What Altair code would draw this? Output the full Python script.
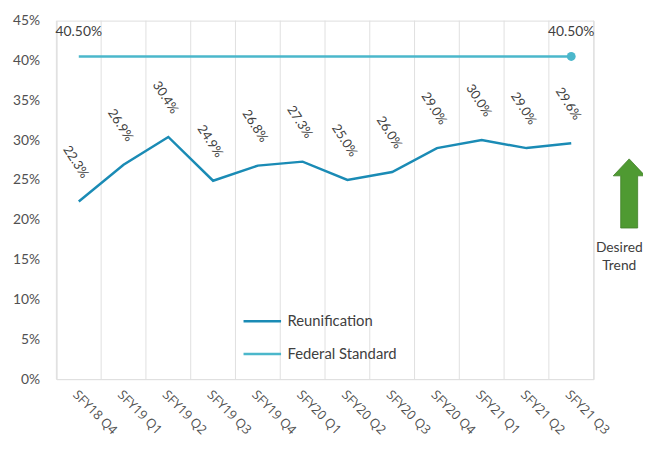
import json
import altair as alt
import pandas as pd

quarters = ["SFY18 Q4", "SFY19 Q1", "SFY19 Q2", "SFY19 Q3", "SFY19 Q4", "SFY20 Q1",
            "SFY20 Q2", "SFY20 Q3", "SFY20 Q4", "SFY21 Q1", "SFY21 Q2", "SFY21 Q3"]
reunification = [22.3, 26.9, 30.4, 24.9, 26.8, 27.3, 25.0, 26.0, 29.0, 30.0, 29.0, 29.6]
federal_standard = [40.5] * 12
series_names = ["Reunification", "Federal Standard"]
series_colors = ["#1A8BB5", "#4BB7CB"]
y_ticks = [0, 0.05, 0.10, 0.15, 0.20, 0.25, 0.30, 0.35, 0.40, 0.45]
note_lines = ["Desired", "Trend"]

rows = []
for i, q in enumerate(quarters):
    rows.append({"idx": i, "quarter": q, "series": "Reunification", "value": reunification[i] / 100})
    rows.append({"idx": i, "quarter": q, "series": "Federal Standard", "value": federal_standard[i] / 100})
df = pd.DataFrame(rows)
n = len(quarters)
edges = pd.DataFrame({"edge": [i - 0.5 for i in range(n + 1)]})

FONT = "Lato"
TXT = "#404040"
GRID = "#E0E0E0"
label_expr = json.dumps(quarters) + "[datum.value]"
x_scale = alt.Scale(domain=[-0.5, n - 0.5], nice=False, zero=False)

x_enc = alt.X("idx:Q", scale=x_scale,
              axis=alt.Axis(values=list(range(n)), labelExpr=label_expr, title=None,
                            grid=False, ticks=False, domainColor=GRID,
                            labelAngle=45, labelAlign="left", labelBaseline="top",
                            labelPadding=9, labelFontSize=13, labelColor="#505050",
                            labelFont="Open Sans", labelOverlap=False))
y_scale = alt.Scale(domain=[0, 0.45], nice=False)
y_axis = alt.Axis(values=y_ticks, format=".0%", title=None, grid=False, ticks=False,
                  domainColor=GRID, labelPadding=17, labelFontSize=14,
                  labelColor="#505050", labelFont=FONT)

grid = alt.Chart(edges).mark_rule(color=GRID, strokeWidth=1).encode(
    x=alt.X("edge:Q", scale=x_scale))

color = alt.Color("series:N",
                  scale=alt.Scale(domain=series_names, range=series_colors),
                  legend=alt.Legend(title=None, orient="none", legendX=188, legendY=284,
                                    symbolType="stroke", symbolSize=1444,
                                    symbolStrokeWidth=2.5, labelFontSize=15,
                                    labelFont=FONT, labelColor=TXT, rowPadding=4,
                                    labelOffset=5))

lines = alt.Chart(df).mark_line(strokeWidth=2.5).encode(
    x=x_enc, y=alt.Y("value:Q", scale=y_scale, axis=y_axis),
    color=color, detail="series:N")

end_dot = alt.Chart(df).transform_filter(
    f"datum.series == 'Federal Standard' && datum.idx == {n - 1}").mark_circle(
    size=80, opacity=1, color=series_colors[1]).encode(x="idx:Q", y="value:Q")

reu_labels = alt.Chart(df).transform_filter("datum.series == 'Reunification'").mark_text(
    angle=57, yOffset=-40, xOffset=-3, fontSize=13, font=FONT, color=TXT,
    align="center", baseline="middle").encode(
    x="idx:Q", y="value:Q", text=alt.Text("value:Q", format=".1%"))

fed_labels = alt.Chart(df).transform_filter(
    f"datum.series == 'Federal Standard' && (datum.idx == 0 || datum.idx == {n - 1})").mark_text(
    yOffset=-25, fontSize=14, font=FONT, color=TXT, align="center",
    baseline="middle").encode(
    x="idx:Q", y="value:Q", text=alt.Text("value:Q", format=".2%"))

arrow_shape = ("M0,-1 L0.46,-0.51 L0.245,-0.51 L0.245,1 L-0.245,1 "
               "L-0.245,-0.51 L-0.46,-0.51 Z")
arrow = alt.Chart(pd.DataFrame({"note": [" ".join(note_lines)]})).mark_point(
    shape=arrow_shape, filled=True, size=4900, color="#4F9A32", opacity=1,
    stroke="#3F7F27", strokeWidth=0.8).encode(
    x=alt.value(580), y=alt.value(175))

note = alt.Chart(pd.DataFrame({"note": [note_lines]})).mark_text(
    fontSize=14, font=FONT, color=TXT, align="center", baseline="middle",
    lineHeight=19).encode(x=alt.value(570), y=alt.value(230), text="note")

chart = alt.layer(grid, lines, end_dot, reu_labels, fed_labels, arrow, note).properties(
    width=544, height=363,
    autosize=alt.AutoSizeParams(type="none"),
    padding={"left": 49, "top": 10, "right": 50, "bottom": 70},
).configure_view(stroke=None).configure(background="white")

chart.save("out.html", embed_options={"renderer": "svg", "actions": False})
